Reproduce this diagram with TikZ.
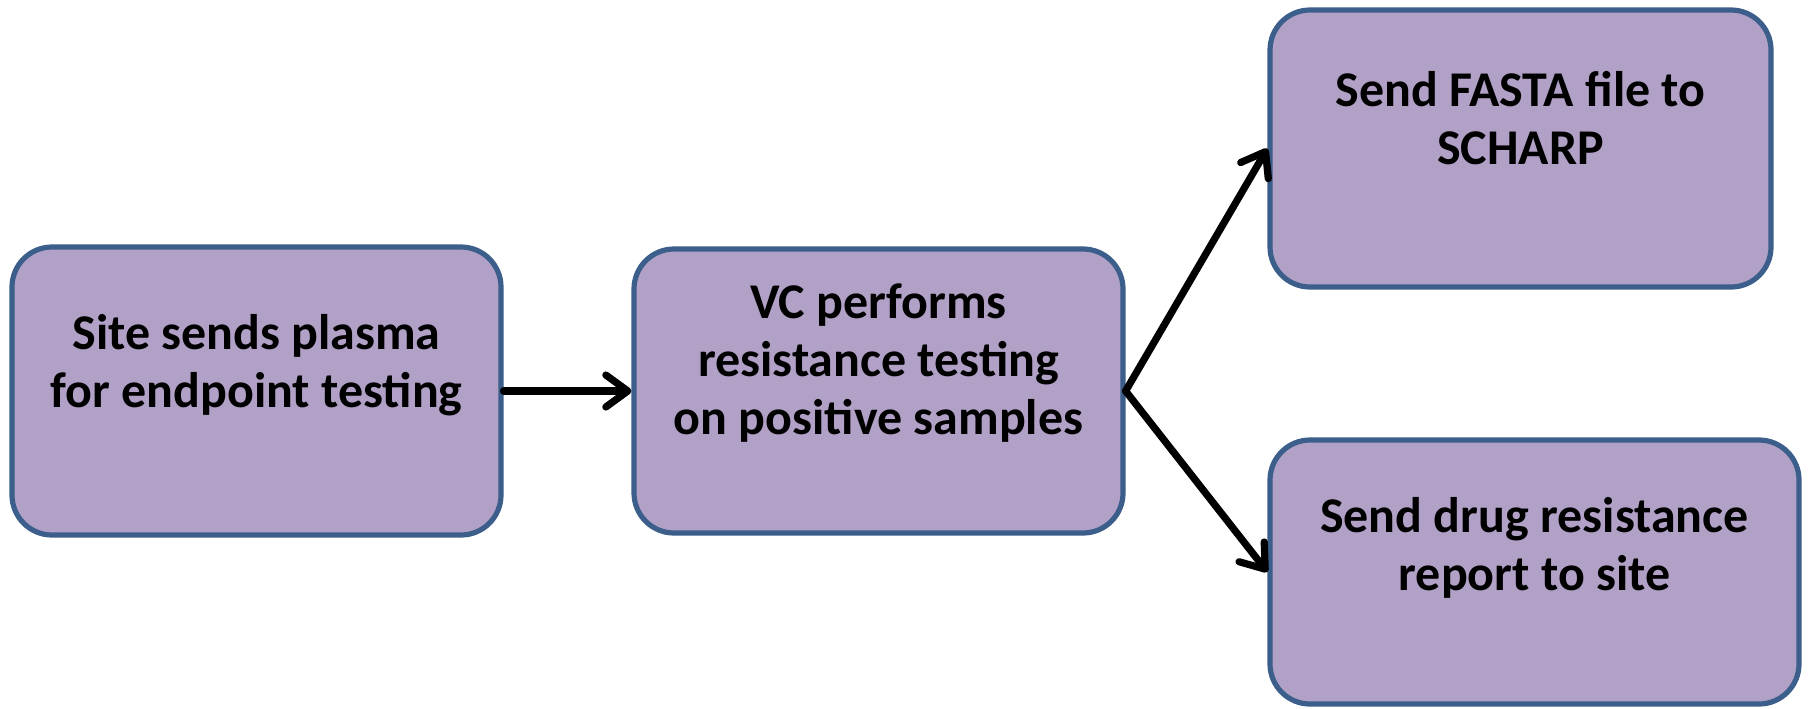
\documentclass[tikz,border=0pt]{standalone}
\usepackage{fontspec}
\setmainfont{Carlito}
\usetikzlibrary{arrows.meta}
\definecolor{boxfill}{HTML}{B2A1C7}
\definecolor{boxline}{HTML}{3B5E8B}
\tikzset{
  stepbox/.style={draw=boxline, fill=boxfill, line width=2.6pt, rounded corners=20pt, inner sep=0pt},
  boxtext/.style={align=center, font=\fontsize{25}{29}\selectfont\bfseries, inner sep=0pt},
  flow/.style={line width=3.6pt, line cap=round, line join=miter, -{Straight Barb[length=11pt,width=16pt,line cap=round,line join=round]}}
}
\begin{document}
\begin{tikzpicture}[x=0.5pt,y=-0.5pt]
\useasboundingbox (0,0) rectangle (1808,708);
\node[stepbox, minimum width=244.5pt, minimum height=144pt] (b1) at (256.5,391) {};
\node[stepbox, minimum width=244.5pt, minimum height=142pt] (b2) at (878.5,391) {};
\node[stepbox, minimum width=250.5pt, minimum height=138.5pt] (b3) at (1520.5,148.5) {};
\node[stepbox, minimum width=264.5pt, minimum height=132pt] (b4) at (1534.5,572) {};
\node[boxtext, yshift=13pt] (t1) at (b1.center) {Site sends plasma\\for endpoint testing};
\node[boxtext, yshift=14pt] (t2) at (b2.center) {VC performs\\resistance testing\\on positive samples};
\node[boxtext, yshift=15pt] (t3) at (b3.center) {Send FASTA file to\\SCHARP};
\node[boxtext, yshift=12pt] (t4) at (b4.center) {Send drug resistance\\report to site};
\draw[flow] (b1.east) -- (b2.west);
\draw[flow] (b2.east) -- (b3.west);
\draw[flow] (b2.east) -- (b4.west);
\end{tikzpicture}
\end{document}
